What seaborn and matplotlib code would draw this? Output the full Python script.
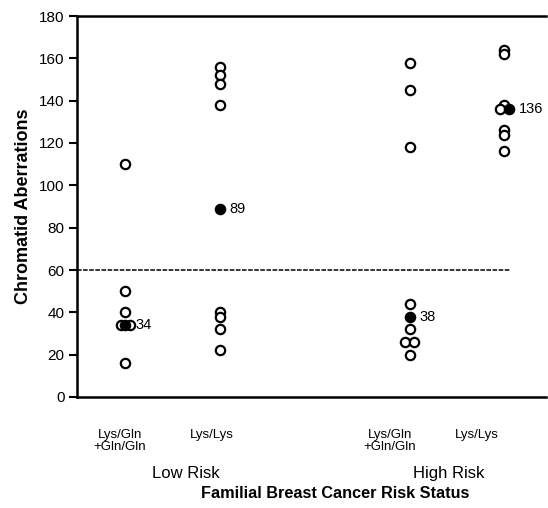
import matplotlib
matplotlib.use("Agg")
import matplotlib.pyplot as plt
import matplotlib.transforms as mtransforms
import seaborn as sns
import pandas as pd
import numpy as np

# values
groups = ["Low Lys/Gln+Gln/Gln", "Low Lys/Lys", "High Lys/Gln+Gln/Gln", "High Lys/Lys"]
low_gln = [110, 50, 40, 34, 34, 16]
low_lys = [156, 152, 148, 138, 40, 38, 32, 22]
high_gln = [158, 145, 118, 44, 32, 26, 26, 20]
high_lys = [164, 162, 138, 136, 126, 124, 116]
means = [34, 89, 38, 136]
mean_labels = ["34", "89", "38", "136"]
# small sideways shifts so overlapping circles show (as in the original)
low_gln_dx = [0, 0, 0, -0.05, 0.05, 0]
low_lys_dx = [0] * 8
high_gln_dx = [0, 0, 0, 0, 0, -0.045, 0.05, 0]
high_lys_dx = [0, 0, 0, -0.05, 0, 0, 0, 0]
mean_dx = [0, 0, 0, 0.05]
tick_labels = ["Lys/Gln\n+Gln/Gln", "Lys/Lys", "Lys/Gln\n+Gln/Gln", "Lys/Lys"]
positions = [1, 2, 4, 5]

rows = []
for pos, vals, dxs in zip(positions, [low_gln, low_lys, high_gln, high_lys],
                          [low_gln_dx, low_lys_dx, high_gln_dx, high_lys_dx]):
    for v, d in zip(vals, dxs):
        rows.append({"x": pos + d, "value": v})
df = pd.DataFrame(rows)
df_mean = pd.DataFrame({"x": np.array(positions) + np.array(mean_dx), "value": means,
                        "label": mean_labels})

sns.set_style("ticks")
plt.rcParams["font.family"] = ["Liberation Sans", "DejaVu Sans"]
for k in ["text.color", "axes.labelcolor", "xtick.color", "ytick.color", "axes.edgecolor"]:
    plt.rcParams[k] = "black"

fig = plt.figure(figsize=(5.48, 5.08), dpi=100)
ax = fig.add_axes([77 / 548, 111 / 508, 469 / 548, 381 / 508])

sns.scatterplot(data=df, x="x", y="value", ax=ax, s=45, facecolor="white",
                edgecolor="black", linewidth=1.6, zorder=3)
sns.scatterplot(data=df_mean, x="x", y="value", ax=ax, s=45, color="black",
                edgecolor="black", linewidth=1.6, zorder=4)
for _, r in df_mean.iterrows():
    ax.annotate(r["label"], (r["x"], r["value"]), xytext=(7, 0), textcoords="offset points",
                va="center", ha="left", fontsize=10.5)

ax.set_xlim(0.49, 5.44)
ax.set_ylim(0, 180)
ax.hlines(60, 0.49, 5.06, colors="black", linestyles=(0, (3, 1)), linewidth=1.1)

ax.set_yticks(range(0, 181, 20))
ax.set_xticks([0.94, 1.91, 3.79, 4.71])
ax.set_xticklabels(tick_labels, fontsize=9.5, linespacing=1.05)
ax.tick_params(axis="x", length=0, pad=23)
ax.tick_params(axis="y", length=6, width=1.5, labelsize=11, pad=3)

for s in ["left", "top", "bottom"]:
    ax.spines[s].set_linewidth(1.8)
ax.spines["right"].set_visible(False)

ax.set_ylabel("Chromatid Aberrations", fontsize=13, fontweight="bold", labelpad=5)
ax.set_xlabel("")

trans = mtransforms.blended_transform_factory(ax.transData, ax.transAxes)
ax.text(1.64, -0.202, "Low Risk", transform=trans, ha="center", va="center", fontsize=12)
ax.text(4.41, -0.202, "High Risk", transform=trans, ha="center", va="center", fontsize=12)
ax.text((335 - 77) / 469, -0.252, "Familial Breast Cancer Risk Status", transform=ax.transAxes,
        ha="center", va="center", fontsize=11.7, fontweight="bold")

fig.savefig("out.png", dpi=100)
